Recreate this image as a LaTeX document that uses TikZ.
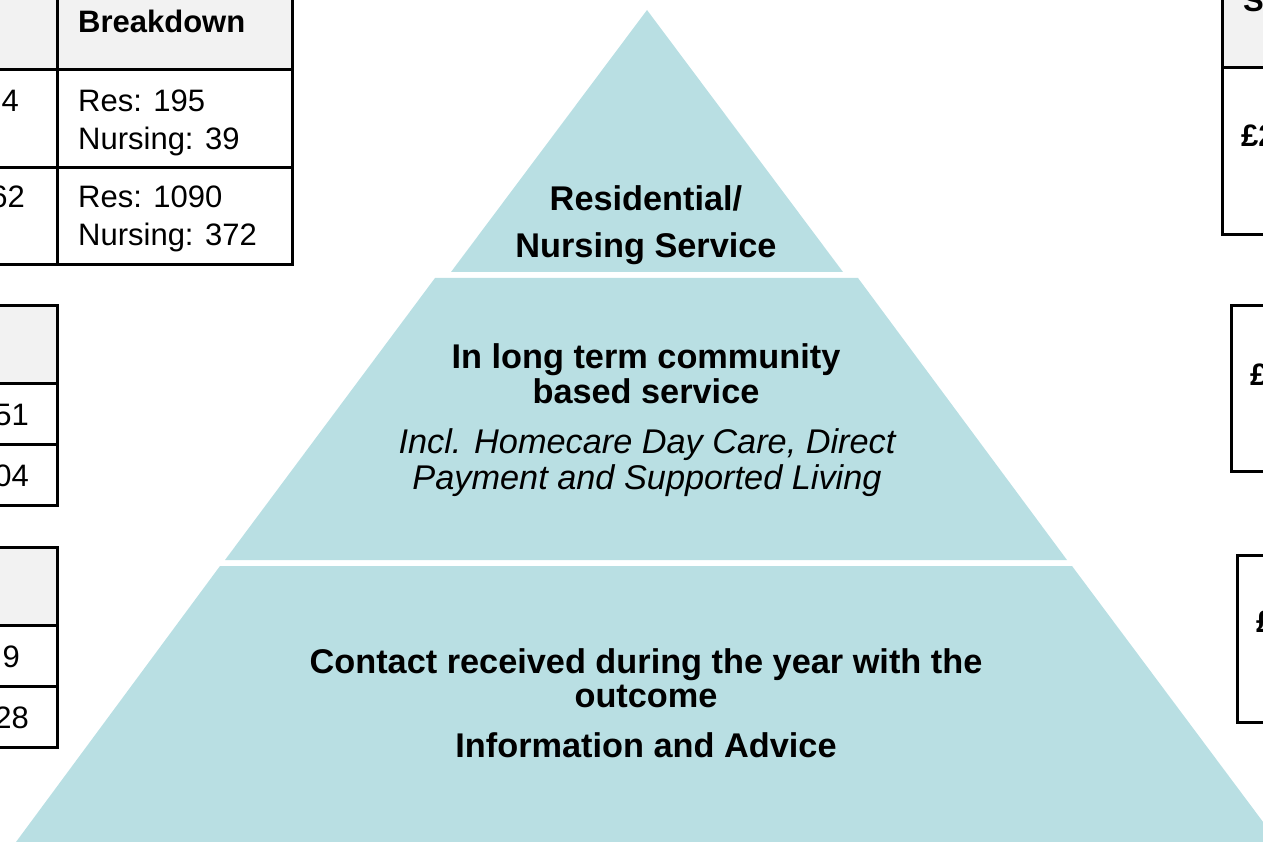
\documentclass[tikz,border=0pt]{standalone}
\usepackage{fontspec}
\setmainfont{Liberation Sans}
\definecolor{pyr}{HTML}{B9DFE3}
\definecolor{hdrgray}{HTML}{F2F2F2}
\begin{document}
\begin{tikzpicture}[x=1pt,y=-1pt,
  layer/.style={fill=pyr, draw=none},
  tline/.style={line width=3pt, black, line cap=rect},
  hdr/.style={fill=hdrgray, draw=none},
  pb/.style={font=\fontsize{34.3}{35}\selectfont\bfseries, anchor=base, inner sep=0pt},
  pi/.style={font=\fontsize{34.3}{35}\selectfont\itshape, anchor=base, inner sep=0pt},
  tl/.style={font=\fontsize{31}{32}\selectfont, anchor=base west, inner sep=0pt},
  tr/.style={font=\fontsize{31}{32}\selectfont, anchor=base east, inner sep=0pt},
  tb/.style={font=\fontsize{31}{32}\selectfont\bfseries, anchor=base west, inner sep=0pt}]
\useasboundingbox (0,0) rectangle (1263,842);
\clip (0,0) rectangle (1263,842);
% pyramid layers
\fill[layer] (647,10) -- (843,272) -- (451,272) -- cycle;
\fill[layer] (435,278) -- (858,278) -- (1067,560) -- (225,560) -- cycle;
\fill[layer] (220,566) -- (1072,566) -- (1278,842) -- (16,842) -- cycle;
% pyramid texts
\node[pb] (t1a) at (646,211) {Residential/};
\node[pb] (t1b) at (646,258) {Nursing Service};
\node[pb] (t2a) at (646,368) {In long term community};
\node[pb] (t2b) at (646,403) {based service};
\node[pi] (t2c) at (647,453) {Incl. Homecare Day Care, Direct};
\node[pi] (t2d) at (647,489) {Payment and Supported Living};
\node[pb] (t3a) at (646,673) {Contact received during the year with the};
\node[pb] (t3b) at (646,707) {outcome};
\node[pb] (t3c) at (646,757) {Information and Advice};
% top-left table
\fill[hdr] (-5,-5) rectangle (292,70);
\draw[tline] (57,-5) -- (57,265);
\draw[tline] (292,-5) -- (292,265);
\draw[tline] (-5,70) -- (292,70);
\draw[tline] (-5,168) -- (292,168);
\draw[tline] (-5,265) -- (292,265);
\node[tb] (bd) at (78,33) {Breakdown};
\node[tr] (n1) at (19,112) {4};
\node[tl] (r1a) at (78,112) {Res: 195};
\node[tl] (r1b) at (78,150) {Nursing: 39};
\node[tr] (n2) at (25,208) {62};
\node[tl] (r2a) at (78,208) {Res: 1090};
\node[tl] (r2b) at (78,246) {Nursing: 372};
% second left table
\fill[hdr] (-5,305) rectangle (57,383);
\draw[tline] (-5,305) -- (57,305) -- (57,505) -- (-5,505);
\draw[tline] (-5,383) -- (57,383);
\draw[tline] (-5,444) -- (57,444);
\node[tr] (n3) at (29,425) {51};
\node[tr] (n4) at (29,486) {04};
% third left table
\fill[hdr] (-5,547) rectangle (57,625);
\draw[tline] (-5,547) -- (57,547) -- (57,747) -- (-5,747);
\draw[tline] (-5,625) -- (57,625);
\draw[tline] (-5,686) -- (57,686);
\node[tr] (n5) at (20,667) {9};
\node[tr] (n6) at (29,728) {28};
% right tables
\fill[hdr] (1222,-5) rectangle (1270,68);
\draw[tline] (1222,-5) -- (1222,235) -- (1270,235);
\draw[tline] (1222,68) -- (1270,68);
\node[tb] (s1) at (1243,12) {S};
\node[tb] (p1) at (1241,147) {£2};
\draw[tline] (1270,305) -- (1231,305) -- (1231,471) -- (1270,471);
\node[tb] (p2) at (1250,385) {£};
\draw[tline] (1270,555) -- (1237,555) -- (1237,722) -- (1270,722);
\node[tb] (p3) at (1256,632) {£};
\end{tikzpicture}
\end{document}
